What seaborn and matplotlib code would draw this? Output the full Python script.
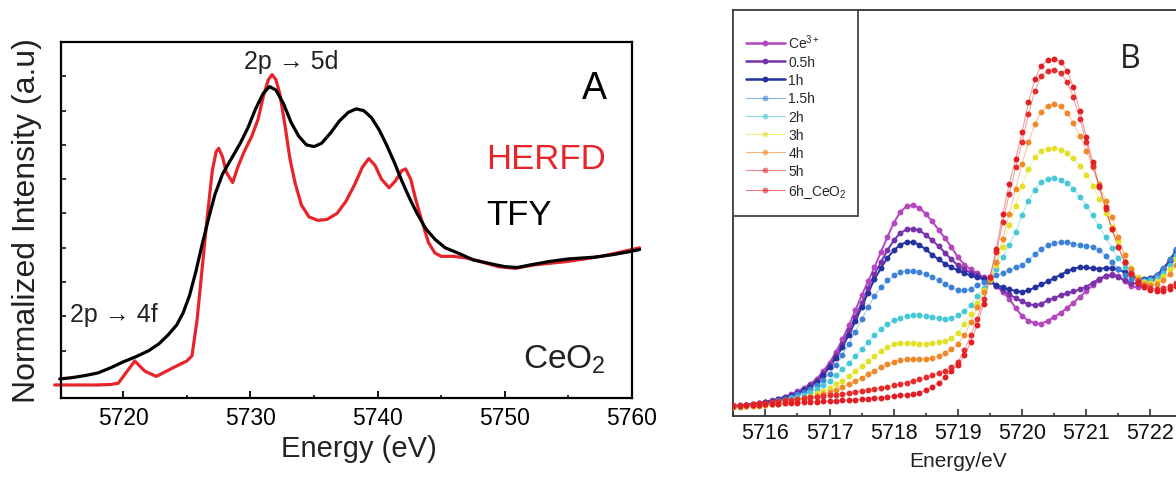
import matplotlib
matplotlib.use("Agg")
import matplotlib.pyplot as plt
import numpy as np
import pandas as pd
import seaborn as sns
from matplotlib.lines import Line2D
from matplotlib.patches import Rectangle
from matplotlib.ticker import MultipleLocator

# Panel A: Ce L3 edge of CeO2, HERFD vs TFY (normalized)
herfd_energy = [5714.6, 5716.0, 5718.0, 5719.0, 5719.6, 5720.2, 5720.9, 5721.7, 5722.6,
                5723.9, 5725.0, 5725.4, 5725.8, 5726.2, 5726.6, 5727.0, 5727.3, 5727.5,
                5727.8, 5728.1, 5728.6, 5729.0, 5729.5, 5730.1, 5730.6, 5731.0, 5731.4,
                5731.7, 5732.0, 5732.3, 5732.7, 5733.1, 5733.5, 5734.0, 5734.6, 5735.3,
                5736.0, 5736.8, 5737.5, 5738.2, 5738.8, 5739.3, 5739.8, 5740.3, 5740.9,
                5741.4, 5741.9, 5742.2, 5742.6, 5743.0, 5743.5, 5744.0, 5744.5, 5745.0,
                5746.0, 5747.0, 5748.3, 5749.5, 5750.8, 5752.3, 5754.9, 5757.6, 5760.0, 5760.6]
herfd_intensity = [0.00, 0.00, 0.00, 0.003, 0.01, 0.07, 0.14, 0.08, 0.05,
                   0.10, 0.14, 0.17, 0.38, 0.68, 0.98, 1.25, 1.36, 1.38,
                   1.33, 1.24, 1.18, 1.27, 1.36, 1.45, 1.55, 1.68, 1.78,
                   1.81, 1.78, 1.70, 1.52, 1.32, 1.18, 1.05, 0.98, 0.96,
                   0.965, 1.00, 1.07, 1.17, 1.27, 1.32, 1.28, 1.20, 1.15,
                   1.19, 1.25, 1.26, 1.20, 1.08, 0.95, 0.83, 0.77, 0.75,
                   0.75, 0.74, 0.715, 0.69, 0.68, 0.70, 0.72, 0.75, 0.79, 0.80]
tfy_energy = [5715.0, 5716.0, 5717.0, 5718.0, 5719.0, 5720.0, 5721.0, 5722.0, 5722.8,
              5723.5, 5724.2, 5724.7, 5725.2, 5725.7, 5726.2, 5726.7, 5727.2, 5727.8,
              5728.5, 5729.2, 5729.8, 5730.4, 5731.0, 5731.5, 5732.0, 5732.6, 5733.2,
              5733.8, 5734.4, 5735.0, 5735.6, 5736.3, 5737.0, 5737.7, 5738.3, 5738.9,
              5739.5, 5740.1, 5740.7, 5741.3, 5741.9, 5742.5, 5743.1, 5743.8, 5744.5,
              5745.3, 5746.3, 5747.5, 5749.0, 5750.0, 5751.0, 5752.0, 5753.5, 5755.0,
              5757.0, 5758.5, 5760.0, 5760.6]
tfy_intensity = [0.035, 0.043, 0.055, 0.07, 0.10, 0.135, 0.165, 0.20, 0.24,
                 0.29, 0.35, 0.42, 0.52, 0.66, 0.82, 0.97, 1.11, 1.23,
                 1.32, 1.41, 1.50, 1.61, 1.70, 1.74, 1.72, 1.64, 1.53,
                 1.45, 1.40, 1.39, 1.41, 1.47, 1.54, 1.59, 1.61, 1.60,
                 1.56, 1.49, 1.40, 1.30, 1.19, 1.09, 1.00, 0.91, 0.85,
                 0.80, 0.77, 0.73, 0.705, 0.69, 0.685, 0.70, 0.72, 0.735,
                 0.745, 0.76, 0.78, 0.79]

# Panel B: time series of pre-edge spectra on a 0.1 eV scan grid (arb. units)
scan_energy = np.round(np.arange(5715.5, 5722.45, 0.1), 1)
series_labels = ["Ce$^{3+}$", "0.5h", "1h", "1.5h", "2h", "3h", "4h", "5h", "6h_CeO$_2$"]
series_colors = ["#b446be", "#7832aa", "#2332a0", "#3c82d7", "#46c8d7",
                 "#e1e128", "#f08728", "#e62d2d", "#e11e23"]
ce3 = [31, 32, 34, 36, 39, 43, 47, 52, 58, 65, 74, 84, 97, 112, 134, 160, 192, 230, 272, 317,
       362, 404, 447, 492, 537, 580, 612, 630, 633, 625, 607, 584, 559, 534, 507, 477, 454, 440, 428, 417,
       404, 390, 372, 352, 324, 300, 286, 278, 277, 286, 297, 310, 324, 340, 357, 375, 392, 407, 419, 426,
       420, 404, 390, 386, 388, 397, 417, 440, 467, 497]
h05 = [30, 31, 33, 35, 38, 42, 46, 51, 56, 62, 70, 80, 92, 107, 128, 152, 182, 217, 257, 297,
       340, 384, 426, 462, 497, 527, 549, 560, 562, 557, 544, 527, 510, 490, 470, 452, 440, 430, 422, 414,
       404, 390, 377, 365, 354, 344, 336, 332, 337, 347, 355, 362, 368, 374, 380, 388, 400, 412, 421, 422,
       418, 407, 400, 397, 400, 407, 420, 440, 465, 494]
h1 = [29, 30, 32, 34, 37, 41, 45, 50, 55, 61, 68, 77, 88, 102, 122, 146, 174, 207, 244, 284,
      327, 370, 410, 444, 474, 497, 514, 522, 522, 514, 500, 484, 470, 457, 446, 437, 429, 422, 416, 411,
      404, 394, 386, 380, 375, 373, 377, 386, 395, 404, 414, 424, 434, 442, 447, 446, 443, 442, 444, 444,
      440, 432, 422, 414, 412, 414, 424, 442, 467, 497]
h15 = [28, 29, 31, 33, 36, 39, 43, 47, 52, 58, 65, 73, 82, 94, 109, 127, 152, 182, 217, 252,
       290, 327, 359, 386, 407, 422, 432, 436, 436, 432, 426, 418, 407, 396, 386, 379, 377, 382, 392, 402,
       412, 422, 430, 438, 446, 454, 468, 486, 502, 512, 519, 522, 521, 517, 514, 511, 507, 497, 480, 462,
       442, 424, 412, 406, 407, 412, 424, 444, 470, 500]
h2 = [28, 29, 30, 32, 34, 37, 40, 44, 48, 53, 58, 64, 72, 81, 92, 105, 122, 140, 159, 179,
      200, 222, 244, 262, 277, 287, 294, 299, 302, 302, 300, 297, 294, 292, 294, 302, 315, 334, 359, 384,
      410, 442, 477, 512, 552, 602, 647, 680, 702, 712, 714, 710, 700, 682, 659, 632, 602, 569, 537, 504,
      474, 447, 427, 412, 406, 407, 414, 430, 454, 482]
h3 = [28, 28, 29, 30, 32, 34, 36, 39, 42, 46, 50, 55, 61, 68, 76, 85, 95, 106, 119, 134,
      149, 164, 179, 194, 207, 216, 220, 220, 218, 217, 217, 219, 222, 226, 234, 250, 277, 307, 340, 377,
      407, 452, 507, 572, 632, 692, 742, 777, 797, 803, 804, 800, 790, 774, 752, 724, 692, 652, 610, 567,
      524, 482, 444, 417, 402, 399, 404, 419, 442, 470]
h4 = [28, 28, 29, 30, 31, 33, 35, 37, 40, 43, 47, 51, 55, 60, 65, 71, 78, 86, 95, 104,
      114, 125, 136, 147, 156, 162, 167, 170, 171, 171, 172, 174, 180, 188, 200, 217, 242, 282, 327, 372,
      410, 462, 532, 607, 682, 757, 822, 877, 914, 932, 937, 930, 910, 880, 842, 797, 747, 697, 647, 597,
      537, 482, 440, 412, 397, 392, 395, 407, 427, 452]
h5 = [32, 33, 34, 36, 38, 40, 42, 44, 47, 49, 52, 54, 56, 58, 60, 62, 64, 66, 69, 72,
      75, 78, 81, 84, 88, 92, 96, 100, 105, 110, 116, 122, 128, 136, 148, 162, 197, 242, 292, 352,
      417, 492, 582, 667, 747, 822, 907, 977, 1020, 1037, 1039, 1030, 1004, 957, 892, 822, 752, 687, 622, 560,
      507, 462, 430, 404, 390, 384, 382, 384, 390, 400]
h6 = [30, 31, 32, 33, 34, 35, 36, 37, 38, 39, 40, 41, 42, 43, 44, 45, 46, 47, 48, 49,
      50, 52, 53, 55, 57, 60, 62, 64, 66, 70, 77, 86, 100, 116, 134, 154, 182, 222, 272, 337,
      417, 502, 607, 697, 772, 852, 942, 1012, 1052, 1069, 1072, 1064, 1037, 987, 917, 837, 762, 692, 627, 562,
      507, 462, 427, 400, 386, 378, 375, 376, 382, 390]
series_values = [ce3, h05, h1, h15, h2, h3, h4, h5, h6]

sns.set_theme(style="white")
plt.rcParams["font.family"] = ["Liberation Sans", "DejaVu Sans"]
plt.rcParams["mathtext.fontset"] = "custom"
plt.rcParams["mathtext.rm"] = "Liberation Sans"
plt.rcParams["mathtext.it"] = "Liberation Sans"

W, H = 1176, 485
fig = plt.figure(figsize=(W / 100, H / 100), dpi=100)

# ---------------------------------------------------------------- panel A
axA = fig.add_axes([61 / W, 86 / H, 571 / W, 356 / H])
sns.lineplot(x=herfd_energy, y=herfd_intensity, ax=axA, color="#e8242b",
             linewidth=2.3, clip_on=False)
sns.lineplot(x=tfy_energy, y=tfy_intensity, ax=axA, color="black",
             linewidth=2.3, clip_on=False)
axA.set_xlim(5715.1, 5760)
axA.set_ylim(-0.076, 2.0)
axA.xaxis.set_major_locator(MultipleLocator(10))
axA.xaxis.set_minor_locator(MultipleLocator(5))
axA.set_yticks(np.arange(0.2, 1.81, 0.2))
axA.tick_params(axis="x", which="major", direction="in", length=5, width=1.3,
                labelsize=16.5, pad=6, bottom=True, colors="black")
axA.tick_params(axis="x", which="minor", direction="in", length=2.5, width=1.3, bottom=True)
axA.tick_params(axis="y", direction="in", length=3.5, width=1.3, left=True, labelleft=False)
for s in axA.spines.values():
    s.set_color("black")
    s.set_linewidth(1.6)
axA.set_xlabel("Energy (eV)", fontsize=21, color="#222")
axA.xaxis.set_label_coords(0.522, -0.10)
axA.set_ylabel("Normalized Intensity (a.u)", fontsize=23, color="#222")
axA.yaxis.set_label_coords(-0.034, 0.50)

axA.text(5729.5, 1.85, "2p \u2192 5d", fontsize=18, ha="left", va="baseline", color="#222")
axA.text(5715.8, 0.375, "2p \u2192 4f", fontsize=18, ha="left", va="baseline", color="#222")
axA.text(5748.5, 1.268, "HERFD", fontsize=25, ha="left", va="baseline", color="#e8242b")
axA.text(5748.5, 0.938, "TFY", fontsize=25, ha="left", va="baseline", color="black")
axA.text(5751.4, 0.103, "CeO$_2$", fontsize=24, ha="left", va="baseline", color="#222")
axA.text(5756.1, 1.676, "A", fontsize=27, ha="left", va="baseline", color="black")

# ---------------------------------------------------------------- panel B
# right spine falls just outside the figure, as in the cropped original
axB = fig.add_axes([733.3 / W, 68 / H, 446 / W, 406 / H])
handles = []
for i, (lab, col, vals) in enumerate(zip(series_labels, series_colors, series_values)):
    strong = i < 3
    lw = 1.4 if strong else 0.8
    la = 1.0 if strong else 0.45
    sns.lineplot(x=scan_energy, y=vals, ax=axB, color=col, linewidth=lw, alpha=la)
    sns.scatterplot(x=scan_energy, y=vals, ax=axB, color=col, s=18, linewidth=0, zorder=3)
    handles.append(Line2D([], [], color=col, lw=lw * 1.3 if strong else 0.8,
                          alpha=1.0 if strong else 0.6, marker="o", markersize=4.2,
                          markerfacecolor=col, markeredgewidth=0))

axB.set_xlim(5715.5, 5722.45)
axB.set_ylim(0, 1219)
axB.xaxis.set_major_locator(MultipleLocator(1))
axB.xaxis.set_minor_locator(MultipleLocator(0.5))
axB.set_yticks([])
axB.tick_params(axis="x", which="major", direction="in", length=5, width=1.2,
                labelsize=15.5, pad=4, bottom=True, colors="#333")
axB.tick_params(axis="x", which="minor", direction="in", length=2.5, width=1.2, bottom=True,
                colors="#333")
axB.tick_params(axis="x", labelcolor="#111")
for s in axB.spines.values():
    s.set_color("#333")
    s.set_linewidth(1.3)
axB.set_xlabel("Energy/eV", fontsize=15, color="#222")
axB.xaxis.set_label_coords(0.505, -0.085)
axB.set_ylabel("")

frame = Rectangle((0, 0.4933), 0.2803, 0.5067, transform=axB.transAxes, fill=True,
                  facecolor="white", edgecolor="#444", linewidth=1.3, zorder=4)
axB.add_patch(frame)
leg = axB.legend(handles, series_labels, loc="upper left", bbox_to_anchor=(0.028, 0.945),
                 frameon=False, fontsize=10, handlelength=2.8, handletextpad=0.25,
                 labelspacing=0.3, borderpad=0, borderaxespad=0)
leg.set_zorder(5)

axB.text(5721.69, 1072, "B", fontsize=23, ha="center", va="center",
         family=["Open Sans", "DejaVu Sans"], color="#222")

fig.savefig("out.png", dpi=100)
